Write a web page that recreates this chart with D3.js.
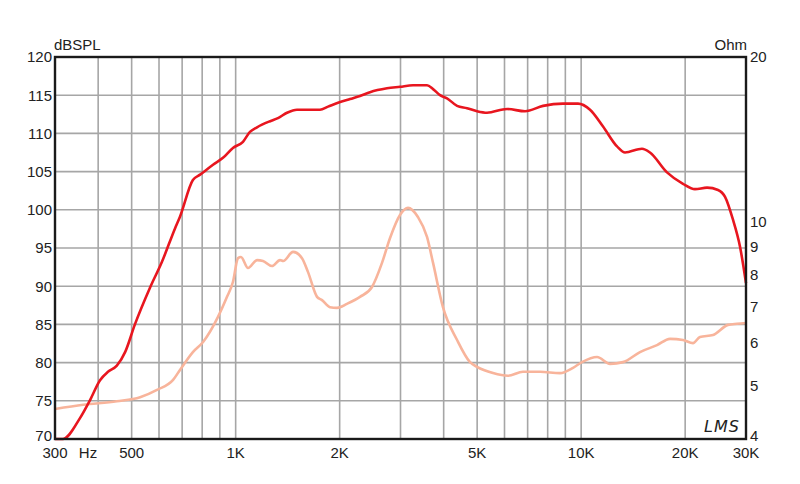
<!DOCTYPE html>
<html><head><meta charset="utf-8">
<script src="https://cdn.jsdelivr.net/npm/d3@7"></script>
<style>body{margin:0;background:#fff;}svg{display:block;font-family:"Liberation Sans",Arial,sans-serif;}</style>
</head><body><svg id="c" width="800" height="484"></svg>
<script>
// SPL curve (Hz, dB)
const splFreq = [300,316,354,379,405,427,453,479,511,565,612,668,690,752,789,860,919,982,1050,1100,1153,1258,1326,1408,1505,1642,1754,1851,1978,2143,2290,2448,2742,2990,3262,3580,3727,3904,4090,4374,4675,4996,5340,6100,6880,7756,8860,9793,10610,11570,12700,13395,15000,15820,17720,19716,21350,23140,24900,26090,27510,28820,30000];
const splDb   = [70,70,72.7,75.1,77.7,78.8,79.6,81.4,85,89.8,93.2,97.6,99.1,103.9,104.6,105.9,106.8,108.1,108.9,110.2,110.8,111.6,112,112.7,113.1,113.1,113.1,113.5,114,114.5,114.9,115.4,115.9,116.1,116.3,116.3,115.8,115,114.6,113.6,113.3,112.9,112.7,113.2,112.9,113.6,113.9,113.9,113.1,110.9,108.3,107.5,108,107.5,104.9,103.4,102.7,102.9,102.6,101.7,98.7,95.2,90.4];
// Impedance curve (Hz, Ohm)
const impFreq = [300,362,453,529,592,659,690,752,805,889,944,982,1016,1036,1086,1153,1200,1274,1344,1373,1466,1556,1620,1720,1778,1875,1965,2100,2290,2481,2652,2798,2990,3154,3370,3580,3727,3981,4374,4768,4996,5557,6140,6786,7602,8684,9473,10057,11117,12124,13217,14802,16580,18079,19716,21072,22078,24078,26607,28248,30000];
const impOhm  = [4.54,4.62,4.69,4.77,4.92,5.13,5.35,5.77,6.02,6.69,7.28,7.75,8.57,8.61,8.22,8.5,8.47,8.29,8.5,8.47,8.8,8.57,8.08,7.28,7.18,6.97,6.95,7.07,7.28,7.59,8.4,9.33,10.28,10.59,10.19,9.37,8.4,6.97,6.07,5.53,5.42,5.28,5.22,5.31,5.31,5.28,5.4,5.53,5.65,5.49,5.53,5.77,5.94,6.1,6.07,5.99,6.15,6.2,6.47,6.5,6.52];
// Axis ticks
const xTickVals = [300,500,1000,2000,5000,10000,20000,30000];
const xTickLabels = ["300","500","1K","2K","5K","10K","20K","30K"];
const xGridVals = [400,500,600,700,800,900,1000,2000,3000,4000,5000,6000,7000,8000,9000,10000,20000];
const yTickVals = [70,75,80,85,90,95,100,105,110,115,120];
const ohmTickVals = [4,5,6,7,8,9,10,20];

const svg = d3.select("#c");
const L=55, R=746, T=57, B=439;
const x = d3.scaleLog().domain([300,30000]).range([L,R]);
const y = d3.scaleLinear().domain([70,120]).range([B,T]);
const yo = d3.scaleLog().domain([4,20]).range([B,T]);

const grid = svg.append("g").attr("stroke","#a6a6a6").attr("stroke-width",1.6);
yTickVals.filter(v=>v>70&&v<120).forEach(v=>{
  grid.append("line").attr("x1",L).attr("x2",R).attr("y1",y(v)).attr("y2",y(v));
});
xGridVals.forEach(v=>{
  grid.append("line").attr("x1",x(v)).attr("x2",x(v)).attr("y1",T).attr("y2",B);
});

const lineGen = (xs, ys, sy) => d3.line().x((d,i)=>x(xs[i])).y((d,i)=>sy(ys[i])).curve(d3.curveMonotoneX)(xs);

svg.append("path").attr("d",lineGen(impFreq,impOhm,yo)).attr("fill","none")
  .attr("stroke","#f8b49b").attr("stroke-width",2.6).attr("stroke-linejoin","round");
svg.append("path").attr("d",lineGen(splFreq,splDb,y)).attr("fill","none")
  .attr("stroke","#e8161f").attr("stroke-width",2.6).attr("stroke-linejoin","round");

// frame
svg.append("rect").attr("x",L).attr("y",T).attr("width",R-L).attr("height",B-T)
  .attr("fill","none").attr("stroke","#1a1a1a").attr("stroke-width",2.4);

const fs = 15;
// left axis labels
svg.append("g").selectAll("text").data(yTickVals).join("text")
  .attr("x",L-3).attr("y",d=>y(d)-(d===70?3:0)).attr("dy","0.36em").attr("text-anchor","end")
  .attr("font-size",fs).attr("fill","#222").text(d=>d);
// right axis labels
svg.append("g").selectAll("text").data(ohmTickVals).join("text")
  .attr("x",R+4).attr("y",d=>yo(d)-(d===4?3:0)).attr("dy","0.36em").attr("text-anchor","start")
  .attr("font-size",fs).attr("fill","#222").text(d=>d);
// x labels
svg.append("g").selectAll("text").data(xTickVals).join("text")
  .attr("x",d=>x(d)).attr("y",458).attr("text-anchor","middle")
  .attr("font-size",fs).attr("fill","#222").text((d,i)=>xTickLabels[i]);
svg.append("text").attr("x",88).attr("y",458).attr("text-anchor","middle")
  .attr("font-size",fs).attr("fill","#222").text("Hz");

svg.append("text").attr("x",54).attr("y",50).attr("font-size",fs).attr("fill","#222").text("dBSPL");
svg.append("text").attr("x",747).attr("y",50).attr("text-anchor","end").attr("font-size",fs).attr("fill","#222").text("Ohm");

svg.append("text").attr("x",722).attr("y",432).attr("text-anchor","middle")
  .attr("font-size",16).attr("font-style","italic").attr("font-family","DejaVu Sans, sans-serif")
  .attr("fill","#222").attr("letter-spacing","1").text("LMS");
</script></body></html>
